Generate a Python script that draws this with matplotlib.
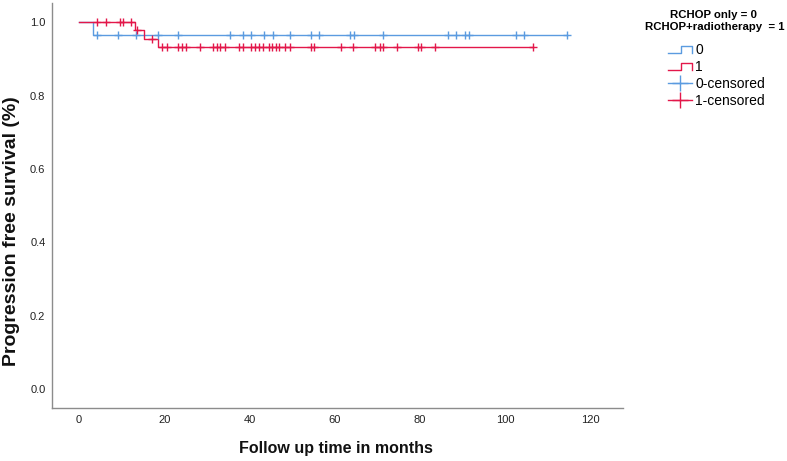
import numpy as np
import matplotlib
matplotlib.use("Agg")
import matplotlib.pyplot as plt
from matplotlib.legend_handler import HandlerBase
from matplotlib.lines import Line2D

plt.rcParams["font.family"] = ["Liberation Sans", "DejaVu Sans"]

# Kaplan-Meier steps (months, survival)
t0_steps = [0, 3.3, 114.6]
s0_steps = [1.0, 0.964, 0.964]
t1_steps = [0, 13.1, 15.3, 18.6, 106.6]
s1_steps = [1.0, 0.978, 0.955, 0.932, 0.932]

# censoring times
cens0 = [4.2, 9.2, 13.3, 18.4, 23.3, 35.3, 38.4, 40.4, 43.4, 45.4, 49.5, 54.4,
         56.4, 63.5, 64.4, 71.4, 86.5, 88.5, 90.6, 91.4, 102.6, 104.5, 114.6]
cens1 = [4.2, 6.3, 9.5, 10.3, 12.2, 13.6, 17.1, 19.4, 20.5, 23.2, 24.2, 25.1,
         28.4, 31.5, 32.3, 33.1, 34.2, 37.6, 38.4, 40.4, 41.3, 42.1, 43.1, 44.5,
         45.3, 46.1, 46.8, 48.4, 49.4, 54.3, 55.0, 61.5, 64.2, 69.5, 70.5, 71.4,
         74.5, 79.5, 80.3, 83.6, 106.6]

BLUE = "#5b9be0"
RED = "#e3174a"


def surv_at(t, times, surv):
    idx = np.searchsorted(times, t, side="right") - 1
    return np.array(surv)[idx]


class StepHandler(HandlerBase):
    def create_artists(self, legend, orig_handle, xdescent, ydescent,
                       width, height, fontsize, trans):
        x0, x1 = -xdescent, -xdescent + width
        xm = x0 + width * 0.55
        y_lo, y_hi = -ydescent + height * 0.15, -ydescent + height * 0.85
        line = Line2D([x0, xm, xm, x1, x1], [y_lo, y_lo, y_hi, y_hi, y_lo],
                      color=orig_handle.get_color(), lw=1.0, transform=trans)
        return [line]


fig = plt.figure(figsize=(7.87, 4.61), dpi=100)
ax = fig.add_axes([0.0665, 0.1156, 0.7255, 0.878])

ax.step(t0_steps, s0_steps, where="post", color=BLUE, lw=1.0)
ax.step(t1_steps, s1_steps, where="post", color=RED, lw=1.0)
ax.plot(cens0, surv_at(cens0, t0_steps, s0_steps), ls="none", marker="+",
        ms=6, mew=1.0, color=BLUE)
ax.plot(cens1, surv_at(cens1, t1_steps, s1_steps), ls="none", marker="+",
        ms=6, mew=1.0, color=RED)

ax.set_xlim(-6.3, 127.7)
ax.set_ylim(-0.05, 1.052)
ax.set_xticks(range(0, 121, 20))
ax.set_yticks(np.arange(0, 1.01, 0.2))
ax.set_yticklabels([f"{v:.1f}" for v in np.arange(0, 1.01, 0.2)])
ax.tick_params(length=0, labelsize=8, colors="#222222", pad=5)
for side in ("top", "right"):
    ax.spines[side].set_visible(False)
for side in ("left", "bottom"):
    ax.spines[side].set_color("#8c8c8c")
    ax.spines[side].set_linewidth(1.0)

ax.set_xlabel("Follow up time in months", fontsize=11.5, fontweight="bold",
              va="center", color="#111111")
ax.xaxis.set_label_coords(0.497, -0.0996)
ax.set_ylabel("Progression free survival (%)", fontsize=14, fontweight="bold",
              va="center", color="#111111")
ax.yaxis.set_label_coords(-0.071, 0.437)

fig.text(713 / 787, 1 - 15 / 461, "RCHOP only = 0", fontsize=8.2,
         fontweight="bold", ha="center", va="center")
fig.text(715 / 787, 1 - 27.5 / 461, "RCHOP+radiotherapy  = 1", fontsize=8.2,
         fontweight="bold", ha="center", va="center")

h0 = Line2D([], [], color=BLUE)
h1 = Line2D([], [], color=RED)
hc0 = Line2D([], [], color=BLUE, marker="+", ms=11, mew=1.0, lw=1.0)
hc1 = Line2D([], [], color=RED, marker="+", ms=11, mew=1.0, lw=1.0)
leg = fig.legend([h0, h1, hc0, hc1], ["0", "1", "0-censored", "1-censored"],
                 handler_map={h0: StepHandler(), h1: StepHandler()},
                 loc="upper left", bbox_to_anchor=(668 / 787, 1 - 43.5 / 461),
                 frameon=False, fontsize=10, handlelength=1.75,
                 handletextpad=0.2, labelspacing=0.2, borderpad=0,
                 borderaxespad=0)

fig.savefig("out.png", dpi=100)
